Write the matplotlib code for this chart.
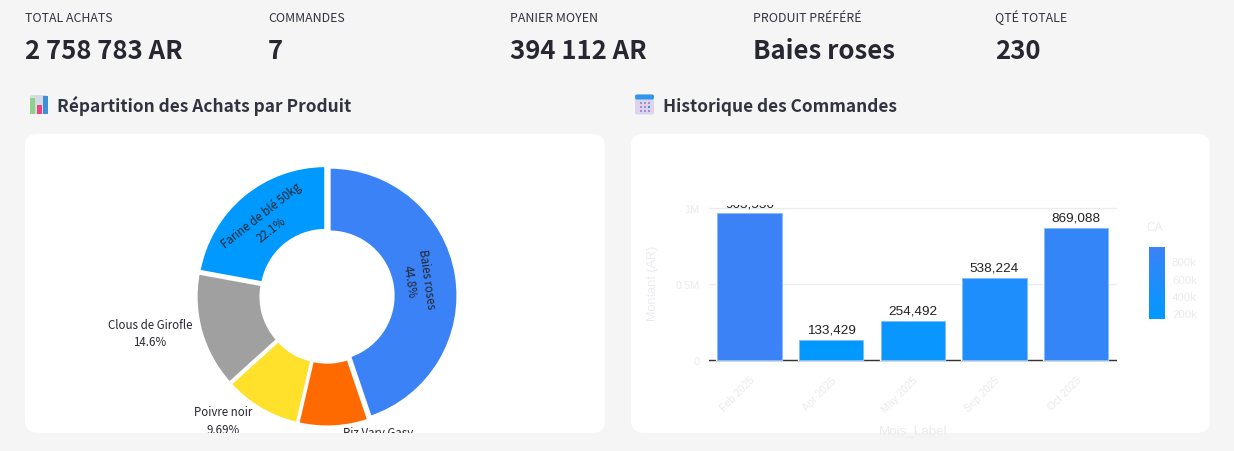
"""
Purchases dashboard: KPI row, donut by product, monthly bar chart
"""
import matplotlib.pyplot as plt
from matplotlib.cm import ScalarMappable
from matplotlib.colors import LinearSegmentedColormap, Normalize
from matplotlib.patches import FancyBboxPatch, Rectangle

kpi_labels = ['TOTAL ACHATS', 'COMMANDES', 'PANIER MOYEN', 'PRODUIT PRÉFÉRÉ', 'QTÉ TOTALE']
kpi_values = ['2 758 783 AR', '7', '394 112 AR', 'Baies roses', '230']
kpi_x = [25, 268, 510, 753, 995]

products = ['Baies roses', 'Riz Vary Gasy', 'Poivre noir', 'Clous de Girofle', 'Farine de blé 50kg']
shares = [44.8, 8.81, 9.69, 14.6, 22.1]
share_labels = ['44.8%', '8.81%', '9.69%', '14.6%', '22.1%']
product_colors = ['#3b82f6', '#ff6a00', '#ffe12b', '#a0a0a0', '#0099ff']

months = ['Feb 2025', 'Apr 2025', 'May 2025', 'Sep 2025', 'Oct 2025']
amounts = [963550, 133429, 254492, 538224, 869088]

TEXT = '#262730'
FAINT = '#e9ebee'
SANS = ['Noto Sans CJK SC', 'DejaVu Sans']
CHART = ['Liberation Sans', 'DejaVu Sans']

plt.rcParams['font.family'] = SANS

fig = plt.figure(figsize=(12.34, 4.52), dpi=100, facecolor='#f5f5f6')


def axes_at(left, top, right, bottom, **kwargs):
    """
Add axes from pixel edges measured from the top left corner
    """
    return fig.add_axes([left / 1234, 1 - bottom / 452,
                         (right - left) / 1234, (bottom - top) / 452], **kwargs)


# page layer in pixel coordinates
page = axes_at(0, 0, 1234, 452)
page.set_xlim(0, 1234)
page.set_ylim(452, 0)
page.axis('off')

cards = []
for left, right in [(25, 605), (631, 1210)]:
    card = FancyBboxPatch((left + 12, 147), right - left - 24, 274.7,
                          boxstyle='round,pad=12,rounding_size=12',
                          facecolor='white', edgecolor='none')
    page.add_patch(card)
    cards.append(card)

for x, label, value in zip(kpi_x, kpi_labels, kpi_values):
    page.text(x, 22, label, fontsize=8.9, color='#31333f', va='baseline')
    page.text(x, 59, value, fontsize=18.5, fontweight='bold', color=TEXT, va='baseline')

page.text(57, 111.5, 'Répartition des Achats par Produit', fontsize=12.45,
          fontweight='bold', color='#31333f', va='baseline')
page.text(663, 111.5, 'Historique des Commandes', fontsize=12.45,
          fontweight='bold', color='#31333f', va='baseline')

# chart emoji
page.add_patch(FancyBboxPatch((30, 96), 18, 19, boxstyle='round,pad=0,rounding_size=2',
                              facecolor='#d5dbe3', edgecolor='none'))
page.add_patch(Rectangle((30, 99), 5, 16, facecolor='#8fd18b'))
page.add_patch(Rectangle((36.5, 106), 5, 9, facecolor='#e8457f'))
page.add_patch(Rectangle((43, 97), 5, 18, facecolor='#3f8fd6'))

# calendar emoji
page.add_patch(FancyBboxPatch((635, 95.5), 19, 20, boxstyle='round,pad=0,rounding_size=2',
                              facecolor='#dcd3ee', edgecolor='none'))
page.add_patch(FancyBboxPatch((635, 95.5), 19, 5, boxstyle='round,pad=0,rounding_size=2',
                              facecolor='#2f96ee', edgecolor='none'))
for row in range(3):
    for col in range(3):
        page.add_patch(Rectangle((639.5 + col * 4, 103 + row * 4), 2.4, 2.4,
                                 facecolor='#a58fc4' if (row, col) != (1, 2) else '#3f8fd6'))

# donut
center_x, center_y, radius = 327, 297, 128
donut = axes_at(25, 135, 605, 433.5)
donut.pie(shares, colors=product_colors, startangle=90, counterclock=False,
          radius=1, explode=[0.02] * len(shares),
          wedgeprops={'width': 0.5, 'edgecolor': 'white', 'linewidth': 1.6})
donut.set_xlim((25 - center_x) / radius, (605 - center_x) / radius)
donut.set_ylim((center_y - 433.5) / radius, (center_y - 135) / radius)
donut.set_aspect('equal')

# block centre in pixels and rotation of each slice label
label_pos = [(418, 281, -82), (378, 442.5, 0), (223, 421.5, 0), (150, 334, 0), (266, 222.5, 38)]
for name, pct, (x, y, angle) in zip(products, share_labels, label_pos):
    donut.text((x - center_x) / radius, (center_y - y) / radius, f'{name}\n{pct}',
               fontsize=8.3, color=TEXT, ha='center', va='center', ma='center',
               rotation=angle, rotation_mode='anchor', linespacing=1.45, clip_on=True)

# bars
bars = axes_at(708.7, 205.5, 1117, 362.8)
bars.patch.set_alpha(0)
cmap = LinearSegmentedColormap.from_list('ca', ['#0099ff', '#3b82f6'])
norm = Normalize(min(amounts), max(amounts))
positions = range(len(months))
bars.set_axisbelow(True)
bars.grid(axis='y', color='#eaecef', linewidth=1)
bars.axhline(0, color='#333333', linewidth=1, zorder=1)
bars.bar(positions, amounts, width=0.79, color='white', edgecolor='white', linewidth=1.6, zorder=2)
bars.bar(positions, amounts, width=0.79, color=[cmap(norm(a)) for a in amounts],
         edgecolor='#86bdfb', linewidth=0.7, zorder=3)
for pos, amount in zip(positions, amounts):
    bars.annotate(f'{amount:,}', (pos, amount), xytext=(0, 3), textcoords='offset points',
                  ha='center', va='bottom', fontsize=9.7, family=CHART, color='#222222',
                  clip_on=True, zorder=4)
bars.set_xlim(-0.5, len(months) - 0.5)
bars.set_ylim(-13158, 1021700)
bars.set_yticks([0, 500000, 1000000], ['0', '0.5M', '1M'])
bars.set_xticks(list(positions), months)
bars.tick_params(axis='y', length=0, pad=6.5, labelsize=7.8, labelcolor=FAINT)
bars.tick_params(axis='x', length=0, pad=9, labelsize=7.6, labelcolor=FAINT, labelrotation=45)
for tick in bars.get_xticklabels():
    tick.set_ha('right')
    tick.set_rotation_mode('anchor')
for tick in bars.get_xticklabels() + bars.get_yticklabels():
    tick.set_family(CHART)
for side in ['top', 'left', 'right', 'bottom']:
    bars.spines[side].set_visible(False)

page.text(653, 283, 'Montant (AR)', fontsize=9.1, color=FAINT, family=CHART,
          rotation=90, ha='center', va='center')
x_title = page.text(913, 431, 'Mois_Label', fontsize=9.6, color=FAINT, family=CHART,
                    ha='center', va='center', clip_on=True)
x_title.set_clip_path(cards[1])

# colour scale
scale = axes_at(1149, 248, 1165, 320)
bar_scale = fig.colorbar(ScalarMappable(norm=norm, cmap=cmap), cax=scale)
bar_scale.outline.set_visible(False)
bar_scale.set_ticks([200000, 400000, 600000, 800000], labels=['200k', '400k', '600k', '800k'])
bar_scale.ax.tick_params(length=0, pad=5, labelsize=8.2, labelcolor=FAINT)
for tick in bar_scale.ax.get_yticklabels():
    tick.set_family(CHART)
page.text(1146, 228.5, 'CA', fontsize=8.6, color=FAINT, family=CHART, va='center')

plt.savefig('out.png', dpi=100, facecolor=fig.get_facecolor())
plt.close()
